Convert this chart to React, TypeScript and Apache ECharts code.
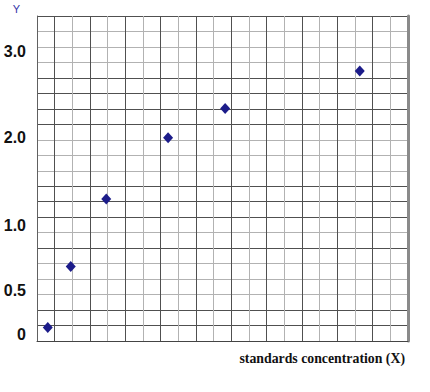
import React, { useEffect, useRef } from "react";
import * as echarts from "echarts";

// Points, in grid squares (21 x 21 squares)
const pointX = [0.61, 1.91, 3.92, 7.42, 10.65, 18.27];
const pointY = [0.88, 4.82, 9.17, 13.14, 15.02, 17.45];

// Y tick labels and where they sit on the paper (in grid squares)
const yTickLabels = ["0", "0.5", "1.0", "2.0", "3.0"];
const yTickPos = [0.39, 3.28, 7.46, 13.14, 18.68];

const gridSquares = 21;
const xName = "standards concentration (X)";
const yName = "Y";

const D = "#505050";
const L = "#b2b2b2";
// horizontal line shades from bottom (index 0) to top (index 21)
const hShades = [D, D, D, L, L, L, D, L, D, D, D, L, L, L, D, D, D, D, L, L, L, D];

export default function App() {
  const ref = useRef<HTMLDivElement>(null);
  useEffect(() => {
    if (!ref.current) return;
    const chart = echarts.init(ref.current, null, { renderer: "svg" });
    const data = pointX.map((x, i) => [x, pointY[i]]);
    chart.setOption({
      animation: false,
      backgroundColor: "#ffffff",
      grid: { left: 37, right: 22, top: 16, bottom: 51, containLabel: false },
      xAxis: {
        type: "value",
        min: 0,
        max: gridSquares,
        interval: 1,
        name: xName,
        nameLocation: "end",
        nameGap: -3,
        nameTextStyle: {
          align: "right",
          verticalAlign: "top",
          padding: [10, 0, 0, 0],
          fontFamily: "Liberation Serif",
          fontWeight: "bold",
          fontSize: 13.8,
          color: "#111",
        },
        axisLabel: { show: false },
        axisTick: { show: false },
        axisLine: { show: true, lineStyle: { color: "#444", width: 1 } },
        splitLine: { show: true, lineStyle: { color: [L, D], width: 1 } },
      },
      yAxis: [
        {
          type: "value",
          min: 0,
          max: gridSquares,
          interval: 1,
          name: yName,
          nameLocation: "end",
          nameGap: 2,
          nameTextStyle: {
            align: "right",
            padding: [0, 17, 0, 0],
            fontFamily: "Liberation Sans",
            fontSize: 11,
            color: "#3535a8",
          },
          axisTick: { show: false },
          axisLine: { show: true, lineStyle: { color: "#606060", width: 1 } },
          axisLabel: {
            customValues: yTickPos,
            formatter: (v: number) => {
              const i = yTickPos.findIndex((p) => Math.abs(p - v) < 1e-6);
              return i >= 0 ? yTickLabels[i] : "";
            },
            margin: 11,
            fontFamily: "Liberation Sans",
            fontWeight: "bold",
            fontSize: 16,
            color: "#111",
          },
          splitLine: { show: true, lineStyle: { color: hShades, width: 1 } },
        },
        {
          type: "value",
          position: "right",
          min: 0,
          max: gridSquares,
          interval: 1,
          axisLabel: { show: false },
          axisTick: { show: false },
          splitLine: { show: false },
          axisLine: { show: true, lineStyle: { color: "#8a8a8a", width: 3 } },
        },
      ],
      series: [
        {
          type: "scatter",
          data,
          symbol: "diamond",
          symbolSize: [10, 11],
          itemStyle: { color: "#1c1c8a", opacity: 1 },
          z: 5,
        },
      ],
    });
    return () => chart.dispose();
  }, []);
  return <div ref={ref} style={{ width: 430, height: 392, position: "absolute", left: 0, top: 0 }} />;
}
